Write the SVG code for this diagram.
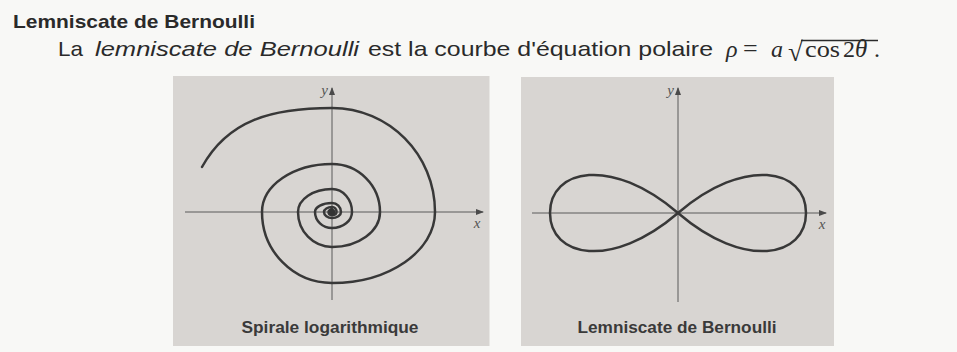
<svg xmlns="http://www.w3.org/2000/svg" width="957" height="352" viewBox="0 0 957 352">
<defs>
<style>
.panel{fill:#d8d5d2}
.axis{stroke:#5a5a5a;stroke-width:1;fill:none}
.curve{stroke:#383838;stroke-width:2.5;fill:none;stroke-linecap:round;stroke-linejoin:round}
.sans{font-family:"Liberation Sans","DejaVu Sans",sans-serif;fill:#2a2a2a}
.serif{font-family:"Liberation Serif","DejaVu Serif",serif;fill:#2a2a2a}
.lab{font-family:"Liberation Serif","DejaVu Serif",serif;font-style:italic;font-size:15px;fill:#555}
.cap{font-family:"Liberation Sans","DejaVu Sans",sans-serif;font-size:17px;font-weight:bold;fill:#3a3a3a}
</style>
<marker id="arr" viewBox="0 0 8 6" refX="7" refY="3" markerWidth="8" markerHeight="6" markerUnits="userSpaceOnUse" orient="auto">
<path d="M0,0 L8,3 L0,6 Z" fill="#4a4a4a"/>
</marker>
</defs>
<rect width="957" height="352" fill="#f8f8f6"/>

<g id="header">
<text class="sans" x="13" y="28" font-size="19" font-weight="bold" textLength="242" lengthAdjust="spacingAndGlyphs" fill="#222">Lemniscate de Bernoulli</text>
<text class="sans" x="58" y="56" font-size="21" textLength="25" lengthAdjust="spacingAndGlyphs">La</text>
<text class="sans" x="95" y="56" font-size="21" font-style="italic" textLength="264" lengthAdjust="spacingAndGlyphs">lemniscate de Bernoulli</text>
<text class="sans" x="368" y="56" font-size="21" textLength="345" lengthAdjust="spacingAndGlyphs">est la courbe d'équation polaire</text>
<text class="serif" x="726" y="56.5" font-size="24" font-style="italic">ρ</text>
<text class="serif" x="743" y="56.5" font-size="26">=</text>
<text class="serif" x="771" y="56.5" font-size="24" font-style="italic">a</text>
<text class="serif" x="788" y="61" font-size="27">√</text>
<line x1="801" y1="40.5" x2="878" y2="40.5" stroke="#2a2a2a" stroke-width="1.3"/>
<text class="serif" x="805" y="56.5" font-size="24" textLength="35" lengthAdjust="spacingAndGlyphs">cos</text>
<text class="serif" x="843" y="56.5" font-size="24">2</text>
<text class="serif" x="855" y="56.5" font-size="25" font-style="italic">θ</text>
<text class="serif" x="874" y="56.5" font-size="24">.</text>
</g>

<g id="spiral-panel">
<rect class="panel" x="173" y="76" width="316.5" height="270"/>
<line class="axis" x1="332" y1="300" x2="332" y2="88" marker-end="url(#arr)"/>
<line class="axis" x1="185" y1="212" x2="483" y2="212" marker-end="url(#arr)"/>
<text class="lab" x="328" y="95" text-anchor="end">y</text>
<text class="lab" x="477" y="228" text-anchor="middle">x</text>
<path class="curve" d="M202,167 C228,120 272,108 332,108 C388.9,108 435,154.6 435,212 C435,251.2 388.9,283 332,283 C293.3,283 262,251.2 262,212 C262,185.5 293.3,164 332,164 C358.5,164 380,185.5 380,212 C380,231.3 358.5,247 332,247 C313.2,247 298,231.3 298,212 C298,199.3 313.2,189 332,189 C343,189 352,199.3 352,212 C352,220.8 343,228 332,228 C322.6,228 315,220.8 315,212 C315,207 322.6,203 332,203 C337,203 341,207 341,212 C341,215.3 337,218 332,218 C327.6,218 324,215.3 324,212 C324,209.2 327.6,207 332,207 C334.5,207 336.5,209.2 336.5,212 C336.5,213.9 334.5,215 332,215 C330.1,215 328.5,213.9 328.5,212 C328.5,210.6 330.1,209.5 332,209.5"/>
<circle cx="332" cy="212" r="3.2" fill="#333"/>
<text class="cap" x="330" y="333" text-anchor="middle" textLength="177" lengthAdjust="spacingAndGlyphs">Spirale logarithmique</text>
</g>

<g id="lemniscate-panel">
<rect class="panel" x="521" y="77" width="313" height="269"/>
<line class="axis" x1="678" y1="302" x2="678" y2="88" marker-end="url(#arr)"/>
<line class="axis" x1="532" y1="213" x2="826" y2="213" marker-end="url(#arr)"/>
<text class="lab" x="674" y="95" text-anchor="end">y</text>
<text class="lab" x="822" y="229" text-anchor="middle">x</text>
<path class="curve" d="M678,213 C744.6,155.8 806,169 806,213 C806,257 744.6,270.2 678,213 C611.4,155.8 550,169 550,213 C550,257 611.4,270.2 678,213 Z"/>
<text class="cap" x="677" y="333" text-anchor="middle" textLength="199" lengthAdjust="spacingAndGlyphs">Lemniscate de Bernoulli</text>
</g>
</svg>
